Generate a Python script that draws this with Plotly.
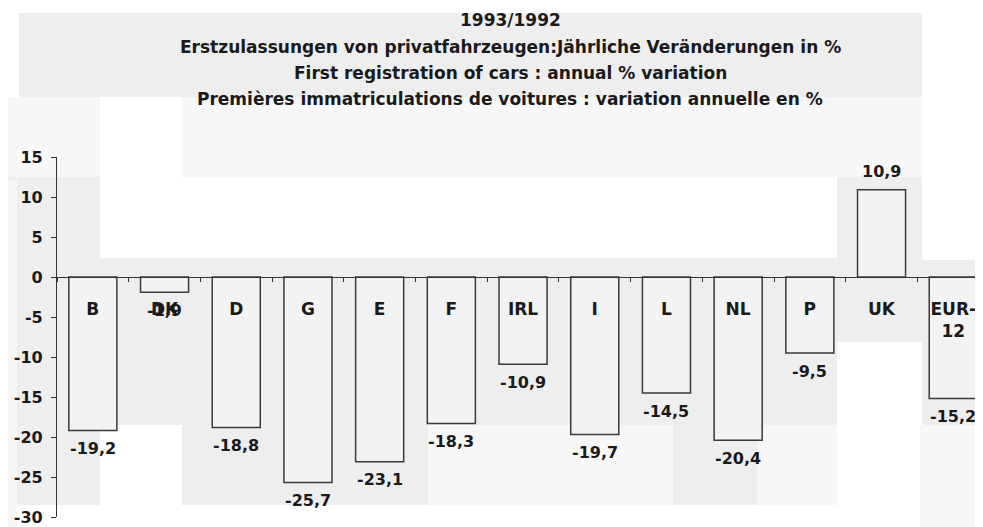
import plotly.graph_objects as go

# ---- data ----
categories = ["B", "DK", "D", "G", "E", "F", "IRL", "I", "L", "NL", "P", "UK", "EUR-12"]
values = [-19.2, -1.9, -18.8, -25.7, -23.1, -18.3, -10.9, -19.7, -14.5, -20.4, -9.5, 10.9, -15.2]
y_ticks = [15, 10, 5, 0, -5, -10, -15, -20, -25, -30]
title_lines = [
    "1993/1992",
    "Erstzulassungen von privatfahrzeugen:Jährliche Veränderungen in %",
    "First registration of cars : annual % variation",
    "Premières immatriculations de voitures : variation annuelle en %",
]

# ---- layout geometry (window pixels; page body has an 8px margin) ----
OFF = 8
WIN_W, WIN_H = 983, 527
W, H = WIN_W - OFF, WIN_H - OFF
AX_X, TOP_Y, BOT_Y = 57, 157, 517          # window pixel positions of plot box
ML, MT = AX_X - OFF, TOP_Y - OFF
MB = H - (BOT_Y - OFF)
MR = 0
PW, PH = W - ML - MR, H - MT - MB

def px(x):
    return (x - OFF - ML) / PW

def py(y):
    return (BOT_Y - y) / PH

FONT = "DejaVu Sans"
INK = "#1a1a1a"

fig = go.Figure()
fig.add_trace(go.Bar(
    x=categories, y=values, width=0.67,
    marker=dict(color="#f3f3f3", line=dict(color="#3a3a3a", width=1.5)),
    hoverinfo="x+y", showlegend=False,
))

annotations = []
for line, yc in zip(title_lines, [20, 47, 73, 99]):
    annotations.append(dict(
        text=line, xref="paper", yref="paper", x=px(510), y=py(yc),
        xanchor="center", yanchor="middle", showarrow=False,
        font=dict(family=FONT, size=17, color=INK, weight="bold"),
    ))
for c, v in zip(categories, values):
    annotations.append(dict(
        text=f"{v:.1f}".replace(".", ","), x=c, y=v, xref="x", yref="y",
        yshift=18 if v > 0 else -18, showarrow=False,
        xanchor="center", yanchor="middle",
        font=dict(family=FONT, size=16, color=INK, weight="bold"),
    ))

# scanned-background patches (window pixel boxes)
base = "#eeeeee"
Wc, Lc = "#ffffff", "#f7f7f7"
patches = [
    (0, 0, 983, 13, Wc), (0, 13, 19, 97, Wc), (922, 0, 983, 260, Wc),
    (100, 97, 182, 258, Wc), (182, 177, 837, 258, Wc), (182, 97, 837, 177, Lc),
    (0, 97, 100, 177, Lc), (837, 97, 922, 177, Lc), (837, 342, 922, 527, Wc),
    (920, 425, 983, 527, Lc), (480, 425, 673, 505, Lc), (757, 425, 837, 505, Lc),
    (428, 425, 480, 505, Lc), (100, 425, 182, 527, Wc), (17, 505, 920, 527, Wc),
    (0, 180, 17, 527, Lc),
]
shapes = [dict(type="rect", xref="paper", yref="paper", x0=px(a), x1=px(c),
               y0=py(d), y1=py(b), fillcolor=col, line=dict(width=0), layer="below")
          for a, b, c, d, col in patches]

ticktext = [c.replace("-", "-<br>") for c in categories]

fig.update_layout(
    width=W, height=H, autosize=False,
    margin=dict(l=ML, r=MR, t=MT, b=MB, pad=0),
    paper_bgcolor=base, plot_bgcolor="rgba(0,0,0,0)",
    annotations=annotations, shapes=shapes,
    xaxis=dict(
        type="category", range=[-0.5, 12.415], anchor="free", position=30 / 45,
        showline=True, linecolor="#333", linewidth=1.2,
        ticks="outside", tickson="boundaries", ticklen=4, tickcolor="#333",
        tickvals=categories, ticktext=ticktext, ticklabelstandoff=16,
        tickfont=dict(family=FONT, size=17, color=INK, weight="bold"),
        showgrid=False, zeroline=False, fixedrange=True,
    ),
    yaxis=dict(
        range=[-30, 15], tickvals=y_ticks, ticktext=[str(t) for t in y_ticks],
        showline=True, linecolor="#333", linewidth=1.2,
        ticks="outside", ticklen=5, tickcolor="#333", ticklabelstandoff=5,
        tickfont=dict(family=FONT, size=16, color=INK, weight="bold"),
        showgrid=False, zeroline=False, fixedrange=True,
    ),
)

fig.write_html("out.html")
